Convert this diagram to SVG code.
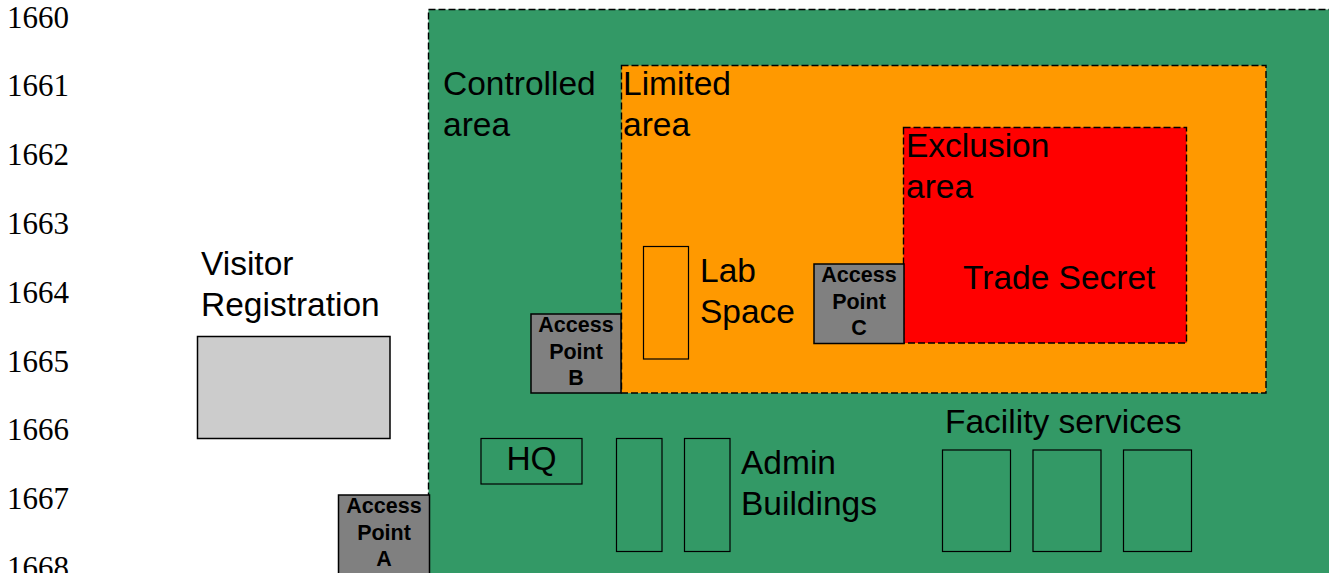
<svg xmlns="http://www.w3.org/2000/svg" width="1329" height="573" viewBox="0 0 1329 573">
<style>
.yr{font-family:"Liberation Serif","Times New Roman",serif;font-size:31px;fill:#000}
.lbl{font-family:"Liberation Sans",Arial,sans-serif;font-size:33.5px;fill:#000}
.ap{font-family:"Liberation Sans",Arial,sans-serif;font-size:21.5px;font-weight:bold;fill:#000;text-anchor:middle}
.zone{stroke:#000;stroke-width:1.4;stroke-dasharray:7,3}
.gate{fill:#808080;stroke:#000;stroke-width:1.5}
.bld{fill:none;stroke:#000;stroke-width:1.2}
</style>
<rect width="1329" height="573" fill="#fff"/>
<g id="years">
<text class="yr" x="7" y="27.5">1660</text>
<text class="yr" x="7" y="96.3">1661</text>
<text class="yr" x="7" y="165.1">1662</text>
<text class="yr" x="7" y="233.9">1663</text>
<text class="yr" x="7" y="302.7">1664</text>
<text class="yr" x="7" y="371.5">1665</text>
<text class="yr" x="7" y="440.3">1666</text>
<text class="yr" x="7" y="509.1">1667</text>
<text class="yr" x="7" y="578">1668</text>
</g>
<g id="controlled-area">
<rect class="zone" x="428.5" y="9.5" width="920" height="580" fill="#339966"/>
<text class="lbl" x="443" y="95">Controlled</text>
<text class="lbl" x="443" y="135.5">area</text>
</g>
<g id="limited-area">
<rect class="zone" x="621.5" y="65.5" width="644.5" height="327.5" fill="#FF9900"/>
<text class="lbl" x="623" y="95">Limited</text>
<text class="lbl" x="623" y="135.5">area</text>
</g>
<g id="exclusion-area">
<rect class="zone" x="903.5" y="127.5" width="283" height="215.5" fill="#FF0000"/>
<text class="lbl" x="906" y="157">Exclusion</text>
<text class="lbl" x="906" y="197.5">area</text>
<text class="lbl" x="963" y="289">Trade Secret</text>
</g>
<g id="visitor-registration">
<text class="lbl" x="201" y="275">Visitor</text>
<text class="lbl" x="201" y="315.5">Registration</text>
<rect x="197.5" y="336.5" width="192.5" height="102" fill="#CCCCCC" stroke="#000" stroke-width="1.5"/>
</g>
<g id="lab-space">
<rect class="bld" x="643.5" y="246.5" width="45" height="112.5"/>
<text class="lbl" x="700" y="282">Lab</text>
<text class="lbl" x="700" y="322.5">Space</text>
</g>
<g id="access-point-a">
<rect class="gate" x="338.5" y="495" width="91" height="90"/>
<text class="ap" x="384" y="513">Access</text>
<text class="ap" x="384" y="539.5">Point</text>
<text class="ap" x="384" y="566">A</text>
</g>
<g id="access-point-b">
<rect class="gate" x="531" y="314" width="90" height="79"/>
<text class="ap" x="576" y="332">Access</text>
<text class="ap" x="576" y="358.5">Point</text>
<text class="ap" x="576" y="385">B</text>
</g>
<g id="access-point-c">
<rect class="gate" x="814" y="264" width="90" height="79.5"/>
<text class="ap" x="859" y="282">Access</text>
<text class="ap" x="859" y="308.5">Point</text>
<text class="ap" x="859" y="335">C</text>
</g>
<g id="hq">
<rect class="bld" x="481" y="438.5" width="101" height="45.5"/>
<text class="lbl" x="531.5" y="470" text-anchor="middle">HQ</text>
</g>
<g id="admin-buildings">
<rect class="bld" x="616.5" y="438.5" width="45.5" height="113"/>
<rect class="bld" x="684.5" y="438.5" width="45.5" height="113"/>
<text class="lbl" x="741" y="474">Admin</text>
<text class="lbl" x="741" y="514.5">Buildings</text>
</g>
<g id="facility-services">
<text class="lbl" x="945" y="432.5">Facility services</text>
<rect class="bld" x="942.5" y="450" width="68" height="101.5"/>
<rect class="bld" x="1033" y="450" width="68" height="101.5"/>
<rect class="bld" x="1123.5" y="450" width="68" height="101.5"/>
</g>
<g id="connectors"/>
</svg>
